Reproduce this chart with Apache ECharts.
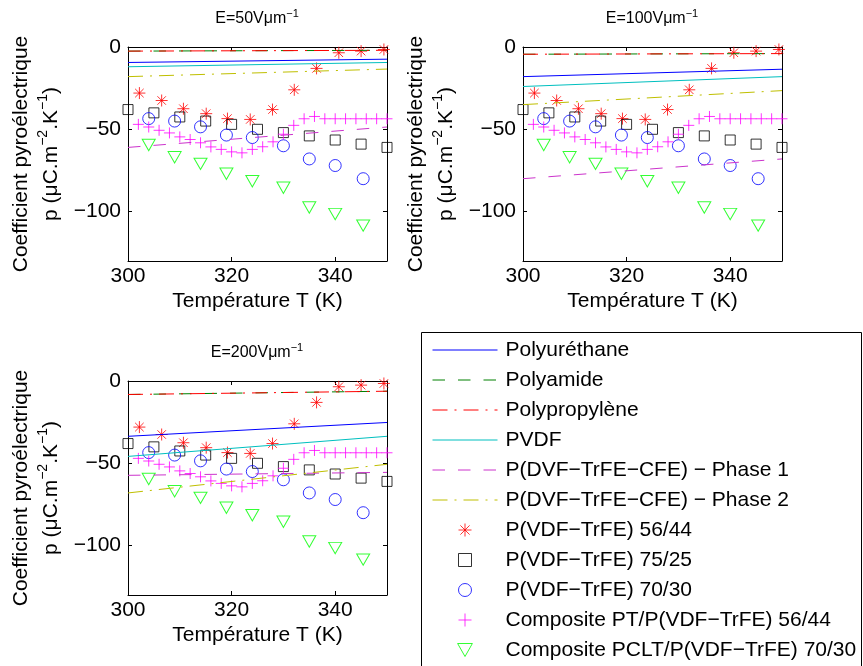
<!DOCTYPE html>
<html><head><meta charset="utf-8">
<script src="https://cdn.jsdelivr.net/npm/echarts@6/dist/echarts.min.js"></script>
<style>html,body{margin:0;padding:0;background:#fff}#c{width:863px;height:666px}</style>
</head><body><div id="c"></div>
<script>
const FONT = '"Liberation Sans", Arial, Helvetica, sans-serif';

// ---- tick labels ----
const xTicks = [300, 320, 340];
const yTicks = [0, -50, -100];
const fieldLabels = ['50', '100', '200'];

// ---- series names ----
const names = ['Polyuréthane', 'Polyamide', 'Polypropylène', 'PVDF',
  'P(DVF−TrFE−CFE) − Phase 1', 'P(DVF−TrFE−CFE) − Phase 2',
  'P(VDF−TrFE) 56/44', 'P(VDF−TrFE) 75/25', 'P(VDF−TrFE) 70/30',
  'Composite PT/P(VDF−TrFE) 56/44', 'Composite PCLT/P(VDF−TrFE) 70/30'];

// ---- model lines (values at T = 300 K and 350 K) ----
const lineT = [300, 350];
const pu50 = [-9.4, -7.4],  pu100 = [-18, -13.5], pu200 = [-33.6, -25.2];
const pa50 = [-2.5, -2],    pa100 = [-4.4, -4],   pa200 = [-8.2, -6.2];
const pp50 = [-2.5, -2],    pp100 = [-4.4, -4],   pp200 = [-8.2, -6.2];
const pvdf50 = [-12, -9.4], pvdf100 = [-24, -18], pvdf200 = [-45.8, -33.6];
const ph1_50 = [-61, -48.6], ph1_100 = [-80, -68], ph1_200 = [-57.3, -55.5];
const ph2_50 = [-18, -13.4], ph2_100 = [-35, -26.5], ph2_200 = [-68, -50.6];

// ---- experimental points (same in the three panels) ----
const T_56_44 = [302.2, 306.5, 310.7, 315.1, 319.2, 323.6, 327.9, 332.1, 336.4, 340.7, 345, 349.4];
const p_56_44 = [-28, -32.5, -37.5, -40.5, -43.5, -44, -38, -26, -13, -3.5, -2.5, -1.5];
const T_75_25 = [300, 305, 310, 315, 320, 325, 330, 335, 340, 345, 350];
const p_75_25 = [-38, -40, -42.5, -45, -47, -50, -52, -54, -56.5, -59, -61];
const T_70_30 = [304, 309, 314, 319, 324, 330, 335, 340, 345.4];
const p_70_30 = [-43.5, -45, -48.5, -53.5, -55, -60, -68, -72, -80];
const T_PT = [302, 304, 306, 308, 310, 312, 314, 316, 318, 320, 322, 324, 326, 328, 330, 332, 334, 336, 338, 340, 342, 344, 346, 348, 350];
const p_PT = [-47, -48.6, -50.6, -52.2, -54.6, -56.2, -58.2, -60.7, -62.2, -63.7, -64.3, -62.2, -60.6, -57.6, -53, -47.6, -43.6, -42.2, -43.6, -43.6, -43.6, -43.6, -43.6, -43.6, -43.6];
const T_PCLT = [304, 309, 314, 319, 324, 330, 335, 340, 345.4];
const p_PCLT = [-59.5, -67, -71, -77, -81.5, -85.5, -97.5, -101.5, -108.5];

// ---- styles ----
const DASH = [12.5, 13];
const DASHDOT = [15, 7, 2, 7];
const lineSets = [
  { name: names[0], color: '#0000ff', type: 'solid', v: [pu50, pu100, pu200] },
  { name: names[1], color: '#008000', type: DASH, v: [pa50, pa100, pa200] },
  { name: names[2], color: '#ff0000', type: DASHDOT, v: [pp50, pp100, pp200] },
  { name: names[3], color: '#00bfbf', type: 'solid', v: [pvdf50, pvdf100, pvdf200] },
  { name: names[4], color: '#cc33cc', type: DASH, v: [ph1_50, ph1_100, ph1_200] },
  { name: names[5], color: '#bfbf00', type: DASHDOT, v: [ph2_50, ph2_100, ph2_200] }
];
const STAR = 'path://M5,0L5,10M0,5L10,5M1.46,1.46L8.54,8.54M1.46,8.54L8.54,1.46';
const SQUARE = 'path://M0,0L10,0L10,10L0,10Z';
const TRI_DOWN = 'path://M0,0L10,0L5,8.8Z';
const CROSS = 'path://M5,0L5,10M0,5L10,5';
const scatterSets = [
  { name: names[6], color: '#ff0000', symbol: STAR, size: 12, T: T_56_44, p: p_56_44 },
  { name: names[7], color: '#000000', symbol: SQUARE, size: 10, T: T_75_25, p: p_75_25 },
  { name: names[8], color: '#0000ff', symbol: 'circle', size: 12, T: T_70_30, p: p_70_30 },
  { name: names[9], color: '#ff00ff', symbol: CROSS, size: 11, T: T_PT, p: p_PT },
  { name: names[10], color: '#00ff00', symbol: TRI_DOWN, size: [13, 11.4], T: T_PCLT, p: p_PCLT }
];

const grids = [
  { left: 128, top: 47, width: 259, height: 214 },
  { left: 523, top: 47, width: 259, height: 214 },
  { left: 128, top: 381, width: 259, height: 214 }
];

const axisLine = { show: true, onZero: false, lineStyle: { color: '#000', width: 1 } };
const xAxes = [], yAxes = [];
const minus = v => (v < 0 ? '−' + Math.abs(v) : String(v));
const yName = '{a|Coefficient pyroélectrique}\n{a|p (μC.m}{s|−2}{a|.K}{s|−1}{a|)}';
const yRich = {
  a: { fontSize: 21, lineHeight: 30, fontFamily: FONT, color: '#000', verticalAlign: 'middle' },
  s: { fontSize: 14, lineHeight: 14, fontFamily: FONT, color: '#000', verticalAlign: 'top' }
};
grids.forEach((g, i) => {
  xAxes.push({
    type: 'value', gridIndex: i, min: 300, max: 350, position: 'bottom',
    axisLine, splitLine: { show: false },
    axisTick: { show: true, inside: true, length: 4, customValues: xTicks, lineStyle: { color: '#000' } },
    axisLabel: { customValues: xTicks, margin: 5, fontSize: 21, color: '#000', fontFamily: FONT },
    name: 'Température T (K)', nameLocation: 'middle', nameGap: 30,
    nameTextStyle: { fontSize: 21, color: '#000', fontFamily: FONT }
  });
  yAxes.push({
    type: 'value', gridIndex: i, min: -130, max: 0, position: 'left',
    axisLine, splitLine: { show: false },
    axisTick: { show: true, inside: true, length: 4, customValues: yTicks, lineStyle: { color: '#000' } },
    axisLabel: { customValues: yTicks, margin: 7, fontSize: 21, color: '#000', fontFamily: FONT, formatter: minus },
    name: yName, nameLocation: 'middle', nameRotate: 90, nameGap: 62,
    nameTextStyle: { rich: yRich }
  });
});
grids.forEach((g, i) => {
  xAxes.push({
    type: 'value', gridIndex: i, min: 300, max: 350, position: 'top',
    axisLine, splitLine: { show: false }, axisLabel: { show: false },
    axisTick: { show: true, inside: true, length: 4, customValues: xTicks, lineStyle: { color: '#000' } }
  });
  yAxes.push({
    type: 'value', gridIndex: i, min: -130, max: 0, position: 'right',
    axisLine, splitLine: { show: false }, axisLabel: { show: false },
    axisTick: { show: true, inside: true, length: 4, customValues: yTicks, lineStyle: { color: '#000' } }
  });
});

const series = [];
grids.forEach((g, i) => {
  lineSets.forEach(s => {
    series.push({
      type: 'line', name: s.name, xAxisIndex: i, yAxisIndex: i, symbol: 'none',
      data: lineT.map((t, k) => [t, s.v[i][k]]),
      lineStyle: { color: s.color, width: 1, type: s.type },
      itemStyle: { color: s.color }, silent: true
    });
  });
  scatterSets.forEach(s => {
    series.push({
      type: 'scatter', name: s.name, xAxisIndex: i, yAxisIndex: i,
      symbol: s.symbol, symbolSize: s.size,
      data: s.T.map((t, k) => [t, s.p[k]]),
      itemStyle: { color: 'none', borderColor: s.color, borderWidth: 1 }, silent: true
    });
  });
});

const legendData = names.map((n, i) => {
  if (i < 6) {
    const s = lineSets[i];
    return { name: n, itemStyle: { color: 'none', borderColor: 'none', borderWidth: 0, opacity: 0 },
      lineStyle: { color: s.color, width: 1, type: s.type, opacity: 1 } };
  }
  const s = scatterSets[i - 6];
  return { name: n, itemStyle: { color: 'none', borderColor: s.color, borderWidth: 1 } };
});

const titleRich = {
  n: { fontSize: 16, fontFamily: FONT, color: '#000', lineHeight: 22, verticalAlign: 'middle' },
  s: { fontSize: 11, fontFamily: FONT, color: '#000', lineHeight: 11, verticalAlign: 'top' }
};
const titleCenters = [[257, 19], [652, 19], [257, 353]];
const graphics = fieldLabels.map((f, i) => ({
  type: 'text', x: titleCenters[i][0], y: titleCenters[i][1], silent: true,
  style: { text: '{n|E=' + f + 'Vμm}{s|−1}', align: 'center', verticalAlign: 'middle', rich: titleRich, fill: '#000' }
}));
graphics.push({
  type: 'rect', silent: true, z: 0,
  shape: { x: 421.5, y: 332.5, width: 440, height: 400 },
  style: { fill: 'none', stroke: '#000', lineWidth: 1 }
});

const chart = echarts.init(document.getElementById('c'), null, { renderer: 'canvas' });
chart.setOption({
  animation: false,
  backgroundColor: '#fff',
  textStyle: { fontFamily: FONT },
  grid: grids.map(g => Object.assign({ show: false, containLabel: false }, g)),
  xAxis: xAxes,
  yAxis: yAxes,
  legend: {
    orient: 'vertical', left: 432, top: 339, padding: 0,
    itemWidth: 65, itemHeight: 13, itemGap: 8, selectedMode: false,
    textStyle: { fontSize: 21, color: '#000', fontFamily: FONT, lineHeight: 22, padding: [0, 0, 0, 3] },
    itemStyle: { borderWidth: 1 }, lineStyle: { width: 1 },
    data: legendData
  },
  graphic: graphics,
  series
});
</script></body></html>
